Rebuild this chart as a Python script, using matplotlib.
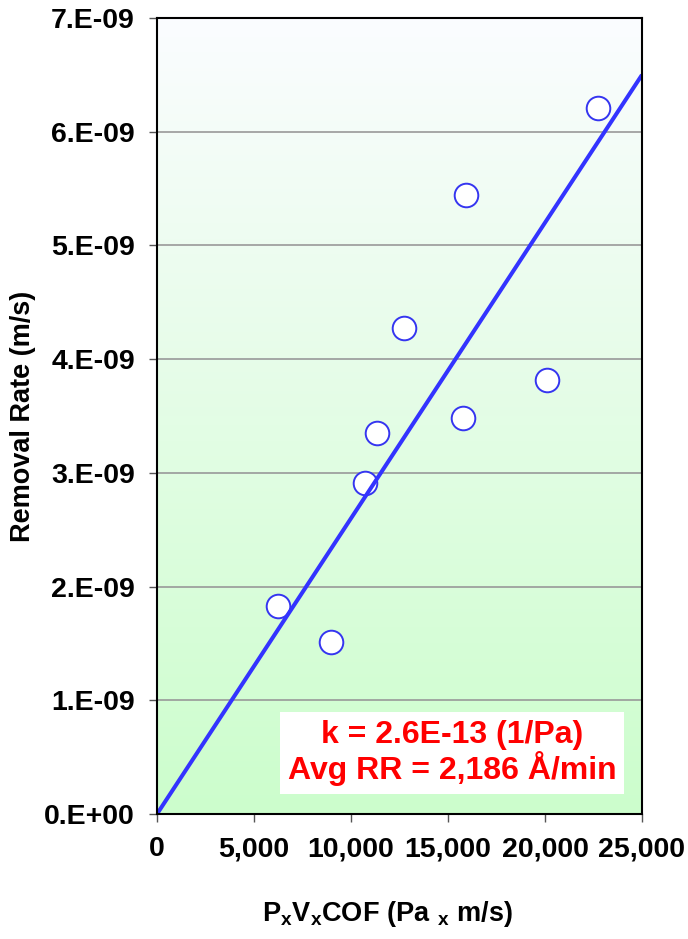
import numpy as np
import matplotlib.pyplot as plt
from matplotlib.colors import LinearSegmentedColormap

plt.rcParams['font.family'] = ['Liberation Sans', 'DejaVu Sans']
plt.rcParams['font.weight'] = 'bold'
plt.rcParams['mathtext.fontset'] = 'custom'
plt.rcParams['mathtext.rm'] = 'Liberation Sans:bold'
plt.rcParams['mathtext.bf'] = 'Liberation Sans:bold'
plt.rcParams['mathtext.it'] = 'Liberation Sans:bold'
plt.rcParams['mathtext.default'] = 'bf'

# measured points (PxVxCOF in Pa*m/s, removal rate in m/s)
pvcof = [6220, 8990, 10720, 11330, 12750, 15790, 15910, 20100, 22720]
removal_rate = [1.83e-9, 1.51e-9, 2.91e-9, 3.35e-9, 4.27e-9, 3.48e-9, 5.44e-9, 3.82e-9, 6.21e-9]

# fit through origin
k = 2.6e-13
fit_x = [0, 25000]

xticks = [0, 5000, 10000, 15000, 20000, 25000]
xtick_labels = ['0', '5,000', '10,000', '15,000', '20,000', '25,000']
yticks = [0, 1e-9, 2e-9, 3e-9, 4e-9, 5e-9, 6e-9, 7e-9]
ytick_labels = ['0.E+00', '1.E-09', '2.E-09', '3.E-09', '4.E-09', '5.E-09', '6.E-09', '7.E-09']

fig = plt.figure(figsize=(6.88, 9.39), dpi=100)
ax = fig.add_axes([0.2282, 0.1331, 0.7049, 0.8477])

# white-to-green gradient background
grad = LinearSegmentedColormap.from_list('bg', ['#ccfecc', '#fbfcff'])
ax.imshow(np.linspace(0, 1, 256).reshape(-1, 1), cmap=grad, origin='lower',
          aspect='auto', extent=[0, 25000, 0, 7e-9], zorder=0)

for y in yticks[1:-1]:
    ax.axhline(y, color='#999999', lw=1.2, zorder=1)

ax.scatter(pvcof, removal_rate, s=17**2, facecolor='white', edgecolor='#3535f0',
           linewidths=1.4, zorder=3)
ax.plot(fit_x, [k * x for x in fit_x], color='#3333ff', lw=2.9, zorder=4,
        solid_capstyle='butt')

ax.set_xlim(0, 25000)
ax.set_ylim(0, 7e-9)
ax.set_xticks(xticks)
ax.set_xticklabels(xtick_labels)
ax.set_yticks(yticks)
ax.set_yticklabels(ytick_labels)
ax.tick_params(direction='out', length=6, width=1, color='#555555',
               labelsize=20.5, pad=10)
for sp in ax.spines.values():
    sp.set_linewidth(1.5)
    sp.set_zorder(5)

ax.set_ylabel('Removal Rate (m/s)', fontsize=19.5, fontweight='bold', va='center')
ax.yaxis.set_label_coords(-0.276, 0.5)
ax.set_xlabel(r'$P_xV_xCOF\ (Pa\ {}_x\ m/s)$', fontsize=19.5, va='center')
ax.xaxis.set_label_coords(0.476, -0.126)

ax.text(0.608, 0.077, 'k = 2.6E-13 (1/Pa)\nAvg RR = 2,186 Å/min', transform=ax.transAxes,
        ha='center', va='center', color='#ff0000', fontsize=23, fontweight='bold',
        linespacing=1.05, zorder=6,
        bbox=dict(boxstyle='square,pad=0.25', facecolor='white', edgecolor='none'))

fig.savefig('out.png', dpi=100)
